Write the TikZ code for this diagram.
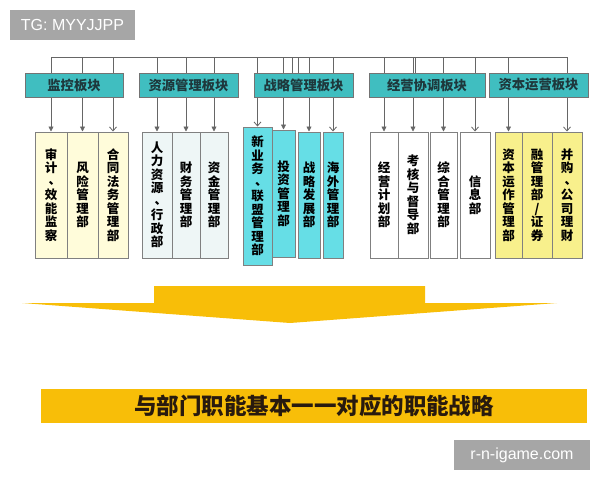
\documentclass[tikz,border=0pt]{standalone}
\usepackage{fontspec}
\setmainfont{Liberation Sans}
\newfontfamily\cjk{Noto Sans CJK SC}
\usetikzlibrary{arrows.meta, positioning}
\usepackage{xcolor}

\definecolor{blockteal}{RGB}{64,190,192}
\definecolor{blocktext}{RGB}{30,56,60}
\definecolor{deptA}{RGB}{255,252,218}
\definecolor{deptB}{RGB}{238,246,246}
\definecolor{deptC}{RGB}{102,222,230}
\definecolor{deptE}{RGB}{248,240,140}
\definecolor{gold}{RGB}{248,190,8}
\definecolor{goaltext}{RGB}{40,26,14}
\definecolor{wmgray}{RGB}{166,166,166}

% enumeration comma, centred in a vertical column
\newcommand\dunhao{\hbox to 1em{\hskip0.3em\raisebox{0.15em}{、}\hss}}

\tikzset{
  ln/.style={draw=black!60, line width=0.8pt},
  fa/.style={ln, -{Triangle[length=5pt,width=5pt]}},
  oa/.style={ln, -{Straight Barb[length=4pt,width=7pt]}},
  blk/.style={draw=black!55, line width=1pt, fill=blockteal, minimum height=24pt,
    inner sep=0pt, text=blocktext, font=\cjk\bfseries\fontsize{13.3}{14}\selectfont},
  dept/.style={draw=black!50, line width=1pt, inner sep=0pt, align=center,
    font=\cjk\bfseries\fontsize{12.5}{13.5}\selectfont},
  wm/.style={fill=wmgray, text=white, inner sep=0pt, font=\fontsize{16}{16}\selectfont},
}

\begin{document}
\begin{tikzpicture}[x=1pt, y=-1pt]
  \useasboundingbox (0,0) rectangle (600,480);

  % watermarks
  \node[wm, minimum width=125pt, minimum height=30pt] (tg) at (72.5,25) {TG: MYYJJPP};
  \node[wm, minimum width=136pt, minimum height=30pt] (site) at (522,455) {r-n-igame.com};

  % departments
  \node[dept, fill=deptA, minimum width=32pt, minimum height=126pt] (d11) at (51,195) {审\\计\\\dunhao\\效\\能\\监\\察};
  \node[dept, fill=deptA, minimum width=31pt, minimum height=126pt] (d12) at (82.5,195) {风\\险\\管\\理\\部};
  \node[dept, fill=deptA, minimum width=30pt, minimum height=126pt] (d13) at (113,195) {合\\同\\法\\务\\管\\理\\部};

  \node[dept, fill=deptB, minimum width=30pt, minimum height=126pt] (d21) at (157,195) {人\\力\\资\\源\\\dunhao\\行\\政\\部};
  \node[dept, fill=deptB, minimum width=28pt, minimum height=126pt] (d22) at (186,195) {财\\务\\管\\理\\部};
  \node[dept, fill=deptB, minimum width=28pt, minimum height=126pt] (d23) at (214,195) {资\\金\\管\\理\\部};

  \node[dept, fill=deptC, minimum width=29pt, minimum height=138pt] (d31) at (257.5,196) {新\\业\\务\\\dunhao\\联\\盟\\管\\理\\部};
  \node[dept, fill=deptC, minimum width=23pt, minimum height=127pt] (d32) at (283.5,193.5) {投\\资\\管\\理\\部};
  \node[dept, fill=deptC, minimum width=22pt, minimum height=126pt] (d33) at (309,195) {战\\略\\发\\展\\部};
  \node[dept, fill=deptC, minimum width=20pt, minimum height=126pt] (d34) at (333,195) {海\\外\\管\\理\\部};

  \node[dept, fill=white, minimum width=28pt, minimum height=126pt] (d41) at (384,195) {经\\营\\计\\划\\部};
  \node[dept, fill=white, minimum width=30pt, minimum height=126pt] (d42) at (413,195) {考\\核\\与\\督\\导\\部};
  \node[dept, fill=white, minimum width=27pt, minimum height=126pt] (d43) at (443.5,195) {综\\合\\管\\理\\部};
  \node[dept, fill=white, minimum width=30pt, minimum height=126pt] (d44) at (475,195) {信\\息\\部};

  \node[dept, fill=deptE, minimum width=27pt, minimum height=126pt] (d51) at (508.5,195) {资\\本\\运\\作\\管\\理\\部};
  \node[dept, fill=deptE, minimum width=30pt, minimum height=126pt] (d52) at (537,195) {融\\管\\理\\部\\/\\证\\券};
  \node[dept, fill=deptE, minimum width=30pt, minimum height=126pt] (d53) at (567,195) {并\\购\\\dunhao\\公\\司\\理\\财};

  % bus and drops
  \coordinate (bus) at (0,57);
  \draw[ln] (d11.north |- bus) -- (d53.north |- bus);
  \draw[fa] (d11.north |- bus) -- (d11.north);
  \draw[fa] (d12.north |- bus) -- (d12.north);
  \draw[oa] (d13.north |- bus) -- (d13.north);
  \draw[fa] (d21.north |- bus) -- (d21.north);
  \draw[fa] (d22.north |- bus) -- (d22.north);
  \draw[fa] (d23.north |- bus) -- (d23.north);
  \draw[oa] (d31.north |- bus) -- (d31.north);
  \draw[fa] (d32.north |- bus) -- (d32.north);
  \draw[fa] (d33.north |- bus) -- (d33.north);
  \draw[oa] (d34.north |- bus) -- (d34.north);
  \draw[fa] (d41.north |- bus) -- (d41.north);
  \draw[fa] (d42.north |- bus) -- (d42.north);
  \draw[fa] (d43.north |- bus) -- (d43.north);
  \draw[oa] (d44.north |- bus) -- (d44.north);
  \draw[fa] (d51.north |- bus) -- (d51.north);
  \draw[oa] (d53.north |- bus) -- (d53.north);
  \draw[ln] (292,0 |- bus) -- (292,85);
  \draw[ln] (298,0 |- bus) -- (298,85);
  \draw[ln] (415.5,0 |- bus) -- (415.5,85);

  % blocks
  \node[blk, minimum width=98pt] (jk) at (74,85) {监控板块};
  \node[blk, minimum width=99pt] (zy) at (188.5,85) {资源管理板块};
  \node[blk, minimum width=99pt] (zl) at (303.5,85) {战略管理板块};
  \node[blk, minimum width=116pt] (jy) at (427,85) {经营协调板块};
  \node[blk, minimum width=99pt] (zb) at (538.5,85) {资本运营板块};

  % big arrow
  \fill[gold] (22,303) -- (154,303) -- (154,286) -- (425,286) -- (425,303)
    -- (557,303) -- (290,323) -- cycle;

  % goal bar
  \node[fill=gold, minimum width=546pt, minimum height=34pt, inner sep=0pt,
    text=goaltext, font=\cjk\bfseries\fontsize{22.5}{24}\selectfont] (goal) at (314,406)
    {与部门职能基本一一对应的职能战略};
\end{tikzpicture}
\end{document}
